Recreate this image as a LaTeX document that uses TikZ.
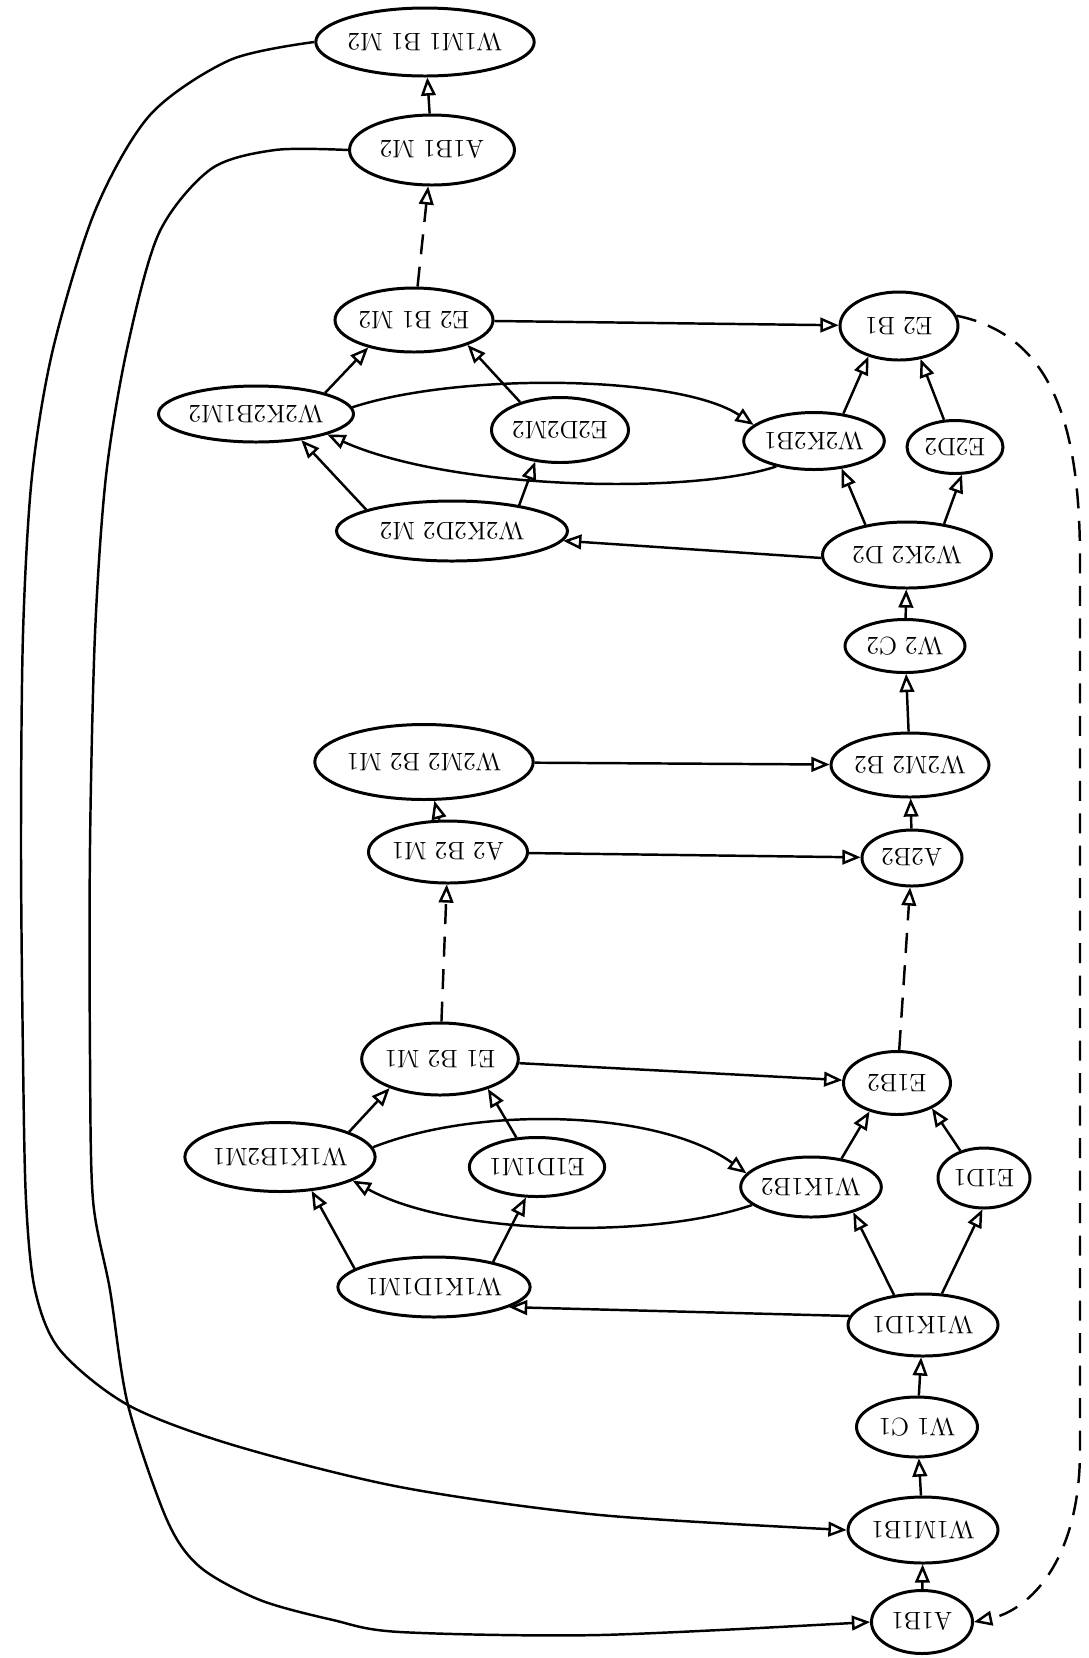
\documentclass[tikz,border=0pt]{standalone}
\usepackage{graphicx}
\usepackage{tikz}
\usetikzlibrary{shapes,arrows}
\newcommand{\flipped}[1]{\rotatebox[origin=c]{180}{#1}}

\begin{document}
\begin{tikzpicture}[x=0.02cm,y=-0.02cm,
  st/.style 2 args={ellipse,draw,line width=1.7pt,inner sep=0pt,minimum width=#1*0.02cm,minimum height=#2*0.02cm,font=\Large},
  tr/.style={->,>=open triangle 45,line width=1.4pt},
  jump/.style={tr,dash pattern=on 0.4cm off 0.25cm}]
\useasboundingbox (0,0) rectangle (1089,1658);
\node[st={210}{68}] (w1m1b1m2) at (425,42) {\flipped{W1M1 B1 M2}};
\node[st={165}{70}] (a1b1m2) at (432,150) {\flipped{A1B1 M2}};
\node[st={158}{64}] (e2b1m2) at (414,320) {\flipped{E2 B1 M2}};
\node[st={195}{56}] (w2k2b1m2) at (256,414) {\flipped{W2K2B1M2}};
\node[st={137}{65}] (e2d2m2) at (560,430) {\flipped{E2D2M2}};
\node[st={231}{60}] (w2k2d2m2) at (452,531) {\flipped{W2K2D2 M2}};
\node[st={118}{68}] (e2b1) at (899,326) {\flipped{E2 B1}};
\node[st={128}{57}] (w2k2b1) at (814,441) {\flipped{W2K2B1}};
\node[st={96}{53}] (e2d2) at (955,447) {\flipped{E2D2}};
\node[st={169}{66}] (w2k2d2) at (907,555) {\flipped{W2K2 D2}};
\node[st={120}{53}] (w2c2) at (905,646) {\flipped{W2 C2}};
\node[st={158}{64}] (w2m2b2) at (910,765) {\flipped{W2M2 B2}};
\node[st={100}{56}] (a2b2) at (912,858) {\flipped{A2B2}};
\node[st={192}{75}] (w2m2b2m1) at (424,762) {\flipped{W2M2 B2 M1}};
\node[st={141}{62}] (a2b2m1) at (448,852) {\flipped{A2 B2 M1}};
\node[st={155}{72}] (e1b2m1) at (440,1059) {\flipped{E1 B2 M1}};
\node[st={190}{69}] (w1k1b2m1) at (280,1157) {\flipped{W1K1B2M1}};
\node[st={133}{59}] (e1d1m1) at (537,1167) {\flipped{E1D1M1}};
\node[st={182}{60}] (w1k1d1m1) at (434,1287) {\flipped{W1K1D1M1}};
\node[st={107}{63}] (e1b2) at (897,1083) {\flipped{E1B2}};
\node[st={122}{60}] (w1k1b2) at (811,1187) {\flipped{W1K1B2}};
\node[st={92}{60}] (e1d1) at (984,1178) {\flipped{E1D1}};
\node[st={150}{62}] (w1k1d1) at (923,1325) {\flipped{W1K1D1}};
\node[st={121}{60}] (w1c1) at (917,1427) {\flipped{W1 C1}};
\node[st={150}{66}] (w1m1b1) at (923,1530) {\flipped{W1M1B1}};
\node[st={101}{63}] (a1b1) at (922,1622) {\flipped{A1B1}};

\draw[tr] (a1b1m2) -- (w1m1b1m2);
\draw[jump] (e2b1m2) -- (a1b1m2);
\draw[tr] (w2k2b1m2.17) -- (e2b1m2.-149);
\draw[tr] (e2d2m2.145) -- (e2b1m2.-25);
\draw[tr] (w2k2d2m2.166) -- (w2k2b1m2.-30);
\draw[tr] (w2k2d2m2.21) -- (e2d2m2.-128);
\draw[tr] (e2b1m2) -- (e2b1);
\draw[tr] (w2k2b1m2.4) .. controls (460,372) and (680,375) .. (w2k2b1.165);
\draw[tr] (w2k2b1.-146) .. controls (690,495) and (450,490) .. (w2k2b1m2.-16);
\draw[tr] (w2k2b1.43) -- (e2b1.-135);
\draw[tr] (e2d2.112) -- (e2b1.-57);
\draw[tr] (w2k2d2.144) -- (w2k2b1.-45);
\draw[tr] (w2k2d2.40) -- (e2d2.-76);
\draw[tr] (w2k2d2.182) -- (w2k2d2m2.-5);
\draw[tr] (w2c2) -- (w2k2d2);
\draw[tr] (w2m2b2) -- (w2c2);
\draw[tr] (a2b2) -- (w2m2b2);
\draw[tr] (w2m2b2m1) -- (w2m2b2);
\draw[tr] (a2b2m1) -- (w2m2b2m1);
\draw[tr] (a2b2m1) -- (a2b2);
\draw[jump] (e1b2m1) -- (a2b2m1);
\draw[jump] (e1b2) -- (a2b2);
\draw[tr] (e1b2m1) -- (e1b2);
\draw[tr] (w1k1b2m1.20) -- (e1b2m1.-150);
\draw[tr] (e1d1m1.125) -- (e1b2m1.-32);
\draw[tr] (w1k1d1m1.167) -- (w1k1b2m1.-47);
\draw[tr] (w1k1d1m1.23) -- (e1d1m1.-110);
\draw[tr] (w1k1b2m1.6) .. controls (480,1105) and (660,1110) .. (w1k1b2.168);
\draw[tr] (w1k1b2.-163) .. controls (650,1240) and (450,1235) .. (w1k1b2m1.-18);
\draw[tr] (w1k1b2.43) -- (e1b2.-134);
\draw[tr] (e1d1.131) -- (e1b2.-36);
\draw[tr] (w1k1d1.134) -- (w1k1b2.-31);
\draw[tr] (w1k1d1.59) -- (e1d1.-93);
\draw[tr] (w1k1d1.173) -- (w1k1d1m1.-15);
\draw[tr] (w1c1) -- (w1k1d1);
\draw[tr] (w1m1b1) -- (w1c1);
\draw[tr] (a1b1) -- (w1m1b1);

\draw[jump] (e2b1.10) .. controls (1050,335) and (1080,420) .. (1080,560) -- (1080,1450) .. controls (1080,1560) and (1030,1610) .. (a1b1.east);
\draw[tr] plot[smooth] coordinates {(w1m1b1m2.west) (230,60) (150,115) (95,211) (53,349) (32,476) (23,634) (21,846) (23,1057) (26,1200) (35,1290) (60,1350) (128,1405) (233,1445) (400,1487) (600,1515) (w1m1b1.west)};
\draw[tr] plot[smooth] coordinates {(a1b1m2.west) (275,150) (211,169) (159,233) (127,349) (106,476) (95,634) (90,846) (90,1057) (93,1200) (110,1290) (128,1405) (167,1520) (200,1567) (260,1600) (333,1620) (400,1632) (600,1635) (a1b1.west)};
\end{tikzpicture}
\end{document}
